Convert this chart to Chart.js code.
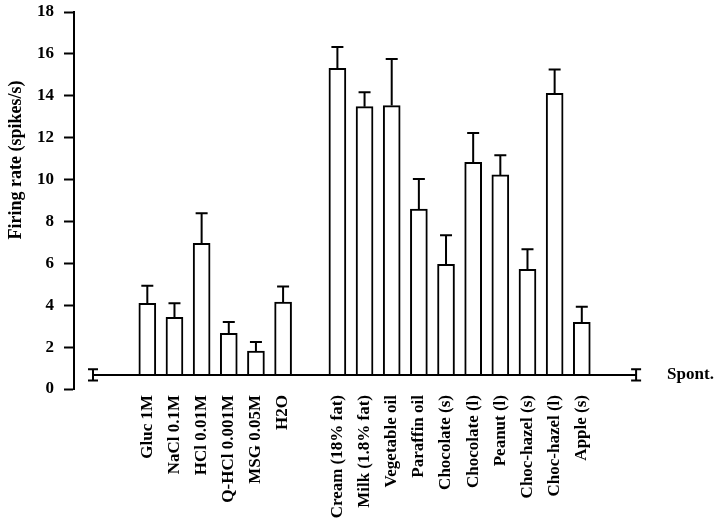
<!DOCTYPE html>
<html>
<head>
<meta charset="utf-8">
<script src="https://cdn.jsdelivr.net/npm/chart.js@4"></script>
<style>
  body { margin: 0; background: #fff; }
  #wrap { width: 720px; height: 532px; }
</style>
</head>
<body>
<div id="wrap"><canvas id="firingChart"></canvas></div>
<script>
"use strict";

const categories = ["Gluc 1M", "NaCl 0.1M", "HCl 0.01M", "Q-HCl 0.001M", "MSG 0.05M", "H2O",
  "Cream (18% fat)", "Milk (1.8% fat)", "Vegetable oil", "Paraffin oil", "Chocolate (s)",
  "Chocolate (l)", "Peanut (l)", "Choc-hazel (s)", "Choc-hazel (l)", "Apple (s)"];
const positions = [2, 3, 4, 5, 6, 7, 9, 10, 11, 12, 13, 14, 15, 16, 17, 18];
const rates = [4.09, 3.42, 6.96, 2.66, 1.81, 4.15, 15.31, 13.48, 13.53, 8.59, 5.95, 10.82, 10.22, 5.71, 14.12, 3.18];
const errors = [0.84, 0.67, 1.43, 0.54, 0.43, 0.74, 1.02, 0.69, 2.23, 1.44, 1.39, 1.40, 0.94, 0.96, 1.13, 0.75];
const spont = 0.67;
const spontErr = 0.27;
const spontEnds = [0, 20];
const yTicks = [0, 2, 4, 6, 8, 10, 12, 14, 16, 18];

const FONT = "'Liberation Serif', 'Times New Roman', serif";

// error bars, spont caps and the extra texts
const extras = {
  id: "extras",
  afterDatasetsDraw(chart) {
    const ctx = chart.ctx;
    const xs = chart.scales.x;
    const ys = chart.scales.y;
    ctx.save();
    ctx.strokeStyle = "#000";
    ctx.lineWidth = 2;
    for (let i = 0; i < rates.length; i++) {
      const x = xs.getPixelForValue(positions[i]);
      const y0 = ys.getPixelForValue(rates[i]);
      const y1 = ys.getPixelForValue(rates[i] + errors[i]);
      ctx.beginPath();
      ctx.moveTo(x, y0);
      ctx.lineTo(x, y1);
      ctx.moveTo(x - 6, y1);
      ctx.lineTo(x + 6, y1);
      ctx.stroke();
    }
    spontEnds.forEach((p) => {
      const x = xs.getPixelForValue(p);
      const ya = ys.getPixelForValue(spont - spontErr);
      const yb = ys.getPixelForValue(spont + spontErr);
      ctx.beginPath();
      ctx.moveTo(x, ya);
      ctx.lineTo(x, yb);
      ctx.moveTo(x - 5, ya);
      ctx.lineTo(x + 5, ya);
      ctx.moveTo(x - 5, yb);
      ctx.lineTo(x + 5, yb);
      ctx.stroke();
    });
    ctx.fillStyle = "#000";
    ctx.font = "bold 17px " + FONT;
    ctx.textAlign = "left";
    ctx.textBaseline = "middle";
    ctx.fillText("Spont.", xs.getPixelForValue(spontEnds[1]) + 31, ys.getPixelForValue(spont));
    ctx.font = "bold 18px " + FONT;
    ctx.translate(16, 160);
    ctx.rotate(-Math.PI / 2);
    ctx.textAlign = "center";
    ctx.fillText("Firing rate (spikes/s)", 0, 0);
    ctx.restore();
  },
};

const config = {
  data: {
    datasets: [
      {
        type: "line",
        data: spontEnds.map((p) => ({ x: p, y: spont })),
        borderColor: "#000",
        borderWidth: 2,
        pointRadius: 0,
      },
      {
        type: "bar",
        data: positions.map((p, i) => ({ x: p, y: [spont, rates[i]] })),
        backgroundColor: "#fff",
        borderColor: "#000",
        borderWidth: 2,
        borderSkipped: "start",
        barThickness: 17,
      },
    ],
  },
  options: {
    responsive: true,
    maintainAspectRatio: false,
    animation: false,
    layout: { padding: { top: 12, right: 60, bottom: 0, left: 0 } },
    plugins: { legend: { display: false }, tooltip: { enabled: false } },
    scales: {
      x: {
        type: "linear",
        offset: false,
        min: -0.7,
        max: 20.88,
        afterFit: (scale) => {
          scale.height = 143;
          scale.paddingLeft = 0;
          scale.paddingRight = 0;
        },
        afterBuildTicks: (scale) => { scale.ticks = positions.map((v) => ({ value: v })); },
        border: { display: false },
        grid: { display: false, drawTicks: false, offset: false },
        ticks: {
          autoSkip: false,
          maxRotation: 90,
          minRotation: 90,
          padding: 6,
          color: "#000",
          font: { family: FONT, size: 17, weight: "bold" },
          callback: (value) => categories[positions.indexOf(value)] || "",
        },
      },
      y: {
        min: 0,
        max: 18,
        afterFit: (scale) => {
          scale.width = 74;
          scale.paddingTop = 0;
          scale.paddingBottom = 0;
        },
        afterBuildTicks: (scale) => { scale.ticks = yTicks.map((v) => ({ value: v })); },
        border: { display: true, color: "#000", width: 2 },
        grid: { drawOnChartArea: false, drawTicks: true, tickLength: 10, tickWidth: 2, tickColor: "#000" },
        ticks: {
          padding: 10,
          color: "#000",
          font: { family: FONT, size: 17, weight: "bold" },
        },
      },
    },
  },
  plugins: [extras],
};

new Chart(document.getElementById("firingChart"), config);
</script>
</body>
</html>
